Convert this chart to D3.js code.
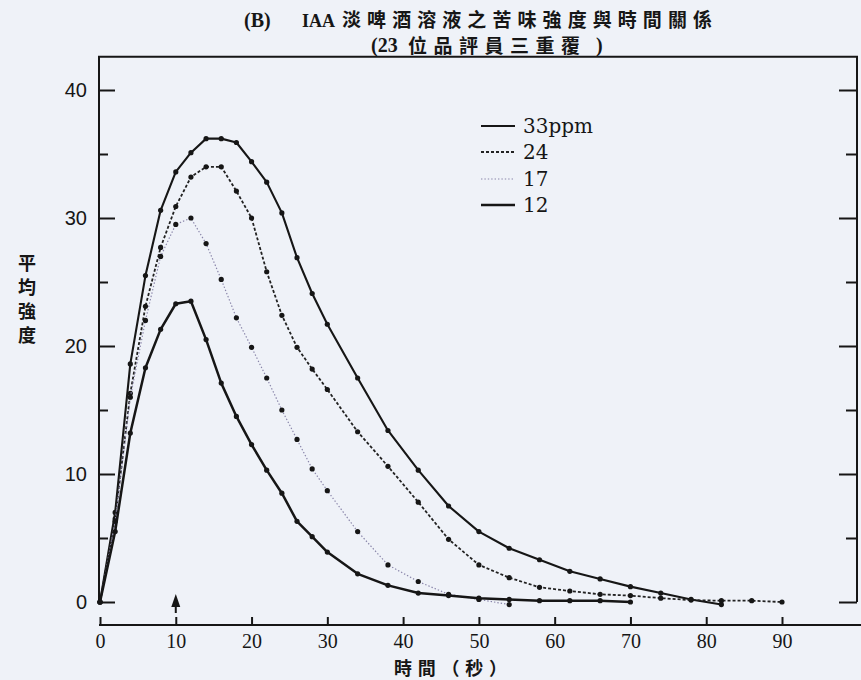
<!DOCTYPE html>
<html>
<head>
<meta charset="utf-8">
<script src="https://cdn.jsdelivr.net/npm/d3@7/dist/d3.min.js"></script>
<style>
html, body { margin: 0; padding: 0; background: #eff2f8; }
svg { display: block; }
</style>
</head>
<body>
<svg class="chart"></svg>
<script>
// sampling times (seconds): every 2 s up to 30, then every 4 s
const seconds = [0, 2, 4, 6, 8, 10, 12, 14, 16, 18, 20, 22, 24, 26, 28, 30,
    34, 38, 42, 46, 50, 54, 58, 62, 66, 70, 74, 78, 82, 86, 90];

// mean intensity per concentration (each series stops where the panel stopped rating)
const ppm33 = [0, 7.0, 18.6, 25.5, 30.6, 33.6, 35.1, 36.2, 36.2, 35.9, 34.4, 32.8, 30.4, 26.9, 24.1, 21.7,
    17.5, 13.4, 10.3, 7.5, 5.5, 4.2, 3.3, 2.4, 1.8, 1.2, 0.7, 0.2, -0.2];
const ppm24 = [0, 6.5, 16.3, 23.1, 27.7, 30.9, 33.2, 34.0, 34.0, 32.1, 30.0, 25.8, 22.4, 19.9, 18.2, 16.6,
    13.3, 10.6, 7.8, 4.9, 2.9, 1.9, 1.15, 0.86, 0.6, 0.5, 0.3, 0.15, 0.1, 0.1, 0.0];
const ppm17 = [0, 6.3, 16.0, 22.0, 27.0, 29.5, 30.0, 28.0, 25.2, 22.2, 19.9, 17.5, 15.0, 12.7, 10.4, 8.7,
    5.5, 2.9, 1.6, 0.6, 0.2, -0.2];
const ppm12 = [0, 5.5, 13.2, 18.3, 21.3, 23.3, 23.5, 20.5, 17.1, 14.5, 12.3, 10.3, 8.5, 6.3, 5.1, 3.9,
    2.2, 1.3, 0.7, 0.5, 0.3, 0.2, 0.1, 0.1, 0.1, 0.0];

const seriesNames = [`33ppm`, `24`, `17`, `12`];
const seriesValues = [ppm33, ppm24, ppm17, ppm12];

const xTicks = [0, 10, 20, 30, 40, 50, 60, 70, 80, 90];
const yMajorTicks = [0, 10, 20, 30, 40];
const yMinorTicks = [5, 15, 25, 35];
const arrowAt = 10;
const yTop = 42.6;

const width = 861;
const height = 680;
const frameLeft = 99;
const frameRight = 857;
const xAxisY = 625;

const ink = `#161616`;
const styles = [
    { dash: null, width: 2.1, color: ink },
    { dash: `3,2`, width: 1.8, color: `#222` },
    { dash: `1.4,2`, width: 1.2, color: `#8a86aa` },
    { dash: null, width: 2.5, color: ink },
];

const x = d3.scaleLinear().domain([0, 90]).range([100, 782]);
const y = d3.scaleLinear().domain([0, 40]).range([602, 90]);

const chart = d3.select(`.chart`)
    .attr(`width`, width)
    .attr(`height`, height)
    .style(`background-color`, `#eff2f8`);

// title
const cjk = `"Noto Sans CJK TC", "Noto Sans CJK SC", sans-serif`;
const serif = `"Liberation Serif", "DejaVu Serif", serif`;

chart.append(`text`).attr(`x`, 244).attr(`y`, 27)
    .attr(`font-family`, serif).attr(`font-size`, 20).attr(`font-weight`, `bold`).attr(`fill`, ink)
    .text(`(B)`);
chart.append(`text`).attr(`x`, 302).attr(`y`, 27)
    .attr(`font-family`, serif).attr(`font-size`, 18).attr(`font-weight`, `bold`).attr(`fill`, ink)
    .text(`IAA`);
chart.append(`text`).attr(`x`, 342).attr(`y`, 27)
    .attr(`font-family`, cjk).attr(`font-size`, 19).attr(`font-weight`, `bold`).attr(`fill`, ink)
    .attr(`textLength`, 370).attr(`lengthAdjust`, `spacing`)
    .text(`淡啤酒溶液之苦味強度與時間關係`);

chart.append(`text`).attr(`x`, 371).attr(`y`, 52)
    .attr(`font-family`, serif).attr(`font-size`, 20).attr(`font-weight`, `bold`).attr(`fill`, ink)
    .text(`(23`);
chart.append(`text`).attr(`x`, 408).attr(`y`, 53)
    .attr(`font-family`, cjk).attr(`font-size`, 19).attr(`font-weight`, `bold`).attr(`fill`, ink)
    .attr(`textLength`, 172).attr(`lengthAdjust`, `spacing`)
    .text(`位品評員三重覆`);
chart.append(`text`).attr(`x`, 596).attr(`y`, 52)
    .attr(`font-family`, serif).attr(`font-size`, 20).attr(`font-weight`, `bold`).attr(`fill`, ink)
    .text(`)`);

// frame (left, top, right; open at the bottom)
chart.append(`path`)
    .attr(`d`, `M${frameLeft},${y(0)}V${y(yTop)}H${frameRight}V${y(0)}`)
    .attr(`fill`, `none`)
    .attr(`stroke`, ink)
    .attr(`stroke-width`, 2);

const styleAxis = (g) => {
    g.select(`.domain`).remove();
    g.selectAll(`.tick line`).attr(`stroke`, ink).attr(`stroke-width`, 2);
    g.selectAll(`.tick text`).attr(`fill`, ink);
};

// left ticks + labels
chart.append(`g`)
    .attr(`transform`, `translate(${frameLeft}, 0)`)
    .call(d3.axisLeft(y).tickValues(yMajorTicks).tickSize(-16).tickPadding(12))
    .call(styleAxis)
    .call(g => g.selectAll(`.tick text`)
        .attr(`font-family`, `"Liberation Sans", Arial, sans-serif`)
        .attr(`font-size`, 20));

chart.append(`g`)
    .attr(`transform`, `translate(${frameLeft}, 0)`)
    .call(d3.axisLeft(y).tickValues(yMinorTicks).tickSize(-9).tickFormat(``))
    .call(styleAxis);

// right ticks
chart.append(`g`)
    .attr(`transform`, `translate(${frameRight}, 0)`)
    .call(d3.axisRight(y).tickValues(yMajorTicks).tickSize(-18).tickFormat(``))
    .call(styleAxis);

chart.append(`g`)
    .attr(`transform`, `translate(${frameRight}, 0)`)
    .call(d3.axisRight(y).tickValues(yMinorTicks).tickSize(-11).tickFormat(``))
    .call(styleAxis);

// separate time axis below the frame
chart.append(`line`)
    .attr(`x1`, x(0) - 1)
    .attr(`x2`, width)
    .attr(`y1`, xAxisY)
    .attr(`y2`, xAxisY)
    .attr(`stroke`, ink)
    .attr(`stroke-width`, 2);

chart.append(`g`)
    .attr(`transform`, `translate(0, ${xAxisY})`)
    .call(d3.axisBottom(x).tickValues(xTicks).tickSize(-8).tickPadding(9))
    .call(styleAxis)
    .call(g => g.selectAll(`.tick text`)
        .attr(`font-family`, serif)
        .attr(`font-size`, 20));

// arrow marking 10 s
chart.append(`line`)
    .attr(`x1`, x(arrowAt)).attr(`x2`, x(arrowAt))
    .attr(`y1`, xAxisY - 12).attr(`y2`, y(0) + 2)
    .attr(`stroke`, ink).attr(`stroke-width`, 2);
chart.append(`path`)
    .attr(`d`, `M${x(arrowAt) - 4.5},${y(0) + 5}L${x(arrowAt)},${y(0) - 8}L${x(arrowAt) + 4.5},${y(0) + 5}Z`)
    .attr(`fill`, ink);

// axis titles
const yTitle = [`平`, `均`, `強`, `度`];
chart.selectAll(`.ytitle`)
    .data(yTitle)
    .enter()
    .append(`text`)
    .attr(`class`, `ytitle`)
    .attr(`x`, 27)
    .attr(`y`, (d, i) => 262 + i * 24)
    .attr(`text-anchor`, `middle`)
    .attr(`dominant-baseline`, `central`)
    .attr(`font-family`, cjk)
    .attr(`font-size`, 18)
    .attr(`font-weight`, `bold`)
    .attr(`fill`, ink)
    .text(d => d);

chart.append(`text`)
    .attr(`x`, 394)
    .attr(`y`, 675)
    .attr(`font-family`, cjk)
    .attr(`font-size`, 18)
    .attr(`font-weight`, `bold`)
    .attr(`fill`, ink)
    .attr(`textLength`, 113)
    .attr(`lengthAdjust`, `spacing`)
    .text(`時間（秒）`);

// series
const line = d3.line()
    .x((d, i) => x(seconds[i]))
    .y(d => y(d));

seriesValues.forEach((values, k) => {
    const s = styles[k];
    chart.append(`path`)
        .datum(values)
        .attr(`d`, line)
        .attr(`fill`, `none`)
        .attr(`stroke`, s.color)
        .attr(`stroke-width`, s.width)
        .attr(`stroke-dasharray`, s.dash)
        .attr(`stroke-linejoin`, `round`);

    chart.append(`g`)
        .selectAll(`circle`)
        .data(values)
        .enter()
        .append(`circle`)
        .attr(`cx`, (d, i) => x(seconds[i]))
        .attr(`cy`, d => y(d))
        .attr(`r`, 2.6)
        .attr(`fill`, ink);
});

// legend
const legendX = 481;
const legendRows = [126, 152, 179, 205];

seriesNames.forEach((name, k) => {
    const s = styles[k];
    chart.append(`line`)
        .attr(`x1`, legendX)
        .attr(`x2`, legendX + 34)
        .attr(`y1`, legendRows[k])
        .attr(`y2`, legendRows[k])
        .attr(`stroke`, s.color)
        .attr(`stroke-width`, s.width)
        .attr(`stroke-dasharray`, s.dash);

    chart.append(`text`)
        .attr(`x`, legendX + 42)
        .attr(`y`, legendRows[k] + 7)
        .attr(`font-family`, `"DejaVu Serif", serif`)
        .attr(`font-size`, 20)
        .attr(`fill`, ink)
        .text(name);
});
</script>
</body>
</html>
